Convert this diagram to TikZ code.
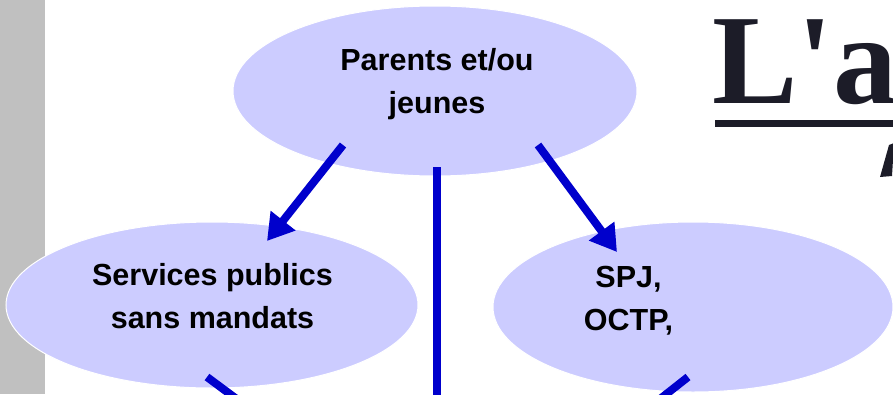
\documentclass[tikz,border=0pt]{standalone}
\usepackage{fontspec}
\setmainfont{Liberation Sans}
\newfontfamily\titleserif{Liberation Serif}
\usetikzlibrary{arrows.meta,shapes.geometric}
\definecolor{ellfill}{RGB}{204,204,255}
\definecolor{arrblue}{RGB}{0,0,204}
\definecolor{stripgray}{RGB}{192,192,192}
\definecolor{inkdark}{RGB}{28,28,40}
\tikzset{
  ell/.style={ellipse, fill=ellfill, draw=white, line width=1pt},
  lbl/.style={anchor=base, align=center, inner sep=0pt,
    font=\fontsize{30.5}{42.5}\selectfont\bfseries, text=black},
  conn/.style={draw=arrblue, line width=8pt},
  arr/.style={conn, -{Triangle[length=26pt,width=30pt]}},
}
\begin{document}
\begin{tikzpicture}[x=1pt,y=-1pt]
\useasboundingbox (0,0) rectangle (893,394);
\clip (0,0) rectangle (893,394);
\fill[stripgray] (0,0) rectangle (45,394);
% ellipses
\node[ell, minimum width=404pt, minimum height=170pt] (top) at (435,91) {};
\node[ell, minimum width=412pt, minimum height=166pt] (left) at (212,305) {};
\node[ell, minimum width=400pt, minimum height=170pt] (right) at (693,307) {};
% texts (anchor base = last line's baseline)
\node[lbl] (toptxt) at (437,113) {Parents et/ou\\jeunes};
\node[lbl] (lefttxt) at (212.5,328) {Services publics\\sans mandats};
\node[lbl] (righttxt) at (628.5,330) {SPJ,\\OCTP,};
% connector points
\coordinate (a1s) at (343,145);
\coordinate (a1e) at (267,241);
\coordinate (a2s) at (538,145);
\coordinate (a2e) at (617,252);
\coordinate (vs) at (437,167);
\coordinate (ve) at (437,420);
\coordinate (bls) at (207,377);
\coordinate (ble) at (242,403);
\coordinate (brs) at (688,377);
\coordinate (bre) at (655,403);
\draw[arr] (a1s) -- (a1e);
\draw[arr] (a2s) -- (a2e);
\draw[conn] (vs) -- (ve);
\draw[conn] (bls) -- (ble);
\draw[conn] (brs) -- (bre);
% title fragment
\node[anchor=base west, inner sep=0pt, text=inkdark,
  font=\titleserif\fontsize{128}{128}\selectfont\bfseries] (title) at (712,103) {L'a};
\fill[inkdark] (715,120) rectangle (893,127);
\fill[inkdark] (880,177) -- (892,176) -- (894,143) -- (889,145) -- cycle;
\end{tikzpicture}
\end{document}
